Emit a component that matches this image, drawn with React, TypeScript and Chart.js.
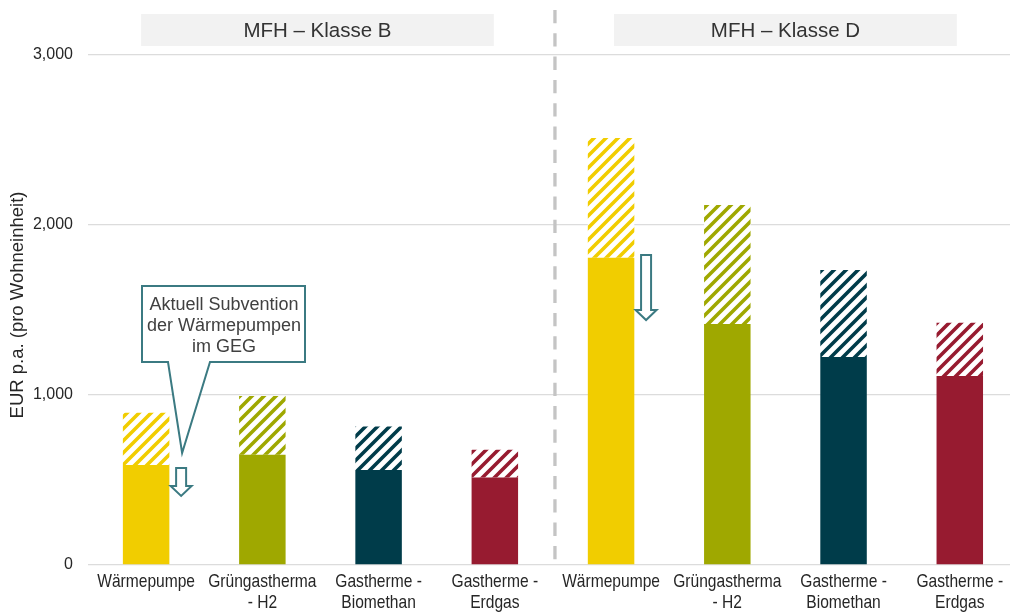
import { useEffect, useRef } from "react";
import { Chart, registerables } from "chart.js";

Chart.register(...registerables);

// Categories (multi-line x labels), two building classes of four systems each
const categories: string[][] = [
  ["Wärmepumpe"],
  ["Grüngastherma", "- H2"],
  ["Gastherme -", "Biomethan"],
  ["Gastherme -", "Erdgas"],
  ["Wärmepumpe"],
  ["Grüngastherma", "- H2"],
  ["Gastherme -", "Biomethan"],
  ["Gastherme -", "Erdgas"],
];
const groupLabels = ["MFH – Klasse B", "MFH – Klasse D"];

// Annual cost per dwelling (EUR): solid base and hatched additional part
const baseCosts = [588, 648, 559, 515, 1808, 1418, 1224, 1112];
const extraCosts = [307, 346, 255, 163, 704, 700, 511, 313];

const barColors = ["#f1cd00", "#9fa800", "#003c4a", "#971b30", "#f1cd00", "#9fa800", "#003c4a", "#971b30"];
const yTicks = [0, 1000, 2000, 3000];

// Subsidy arrows (EUR values) next to the heat pump bars
const arrowCategory = [0, 4];
const arrowFrom = [571, 1824];
const arrowTo = [406, 1441];

const calloutLines = ["Aktuell Subvention", "der Wärmepumpen", "im GEG"];
const yTitle = "EUR p.a. (pro Wohneinheit)";

const TEAL = "#3b7a82";
const SANS = "'Liberation Sans', Arial, sans-serif";

function hatch(color: string): CanvasPattern | string {
  const size = 12;
  const c = document.createElement("canvas");
  c.width = size;
  c.height = size;
  const g = c.getContext("2d");
  if (!g) return color;
  g.fillStyle = "#ffffff";
  g.fillRect(0, 0, size, size);
  g.strokeStyle = color;
  g.lineWidth = 3.6;
  g.beginPath();
  g.moveTo(-3, size + 3);
  g.lineTo(size + 3, -3);
  g.moveTo(-3, 3);
  g.lineTo(3, -3);
  g.moveTo(size - 3, size + 3);
  g.lineTo(size + 3, size - 3);
  g.stroke();
  return g.createPattern(c, "repeat") || color;
}

const overlayPlugin = {
  id: "overlay",
  afterDraw(chart: any) {
    const { ctx, scales, chartArea } = chart;
    const x = scales.x;
    const y = scales.y;
    ctx.save();

    // condensed category labels under each bar
    ctx.fillStyle = "#262626";
    ctx.font = `19px ${SANS}`;
    ctx.textAlign = "center";
    ctx.textBaseline = "middle";
    categories.forEach((lines, i) => {
      const cx = x.getPixelForValue(i);
      lines.forEach((line, j) => {
        ctx.save();
        ctx.translate(cx, chartArea.bottom + 17 + j * 21);
        ctx.scale(0.82, 1);
        ctx.fillText(line, 0, 0);
        ctx.restore();
      });
    });

    // group header boxes
    const boxes = [
      [x.getPixelForValue(0) - 5, x.getPixelForValue(3) - 1],
      [x.getPixelForValue(4) + 3, x.getPixelForValue(7) - 3],
    ];
    boxes.forEach(([l, r], i) => {
      ctx.fillStyle = "#f2f2f2";
      ctx.fillRect(l, 14, r - l, 32);
      ctx.fillStyle = "#333333";
      ctx.font = `20.5px ${SANS}`;
      ctx.textAlign = "center";
      ctx.textBaseline = "middle";
      ctx.fillText(groupLabels[i], (l + r) / 2, 31);
    });

    // dashed separator between the groups
    const sx = (x.getPixelForValue(3) + x.getPixelForValue(4)) / 2 + 2;
    ctx.strokeStyle = "#c4c4c4";
    ctx.lineWidth = 3.3;
    ctx.setLineDash([13.3, 10]);
    ctx.beginPath();
    ctx.moveTo(sx, 10);
    ctx.lineTo(sx, chartArea.bottom);
    ctx.stroke();
    ctx.setLineDash([]);

    // hollow down arrows
    const arrowTops: number[][] = [];
    arrowCategory.forEach((cat, i) => {
      const cx = x.getPixelForValue(cat) + 35;
      const top = y.getPixelForValue(arrowFrom[i]);
      const tip = y.getPixelForValue(arrowTo[i]);
      const headStart = tip - 10;
      arrowTops.push([cx, top]);
      ctx.beginPath();
      ctx.moveTo(cx - 5, top);
      ctx.lineTo(cx + 5, top);
      ctx.lineTo(cx + 5, headStart);
      ctx.lineTo(cx + 10.5, headStart);
      ctx.lineTo(cx, tip);
      ctx.lineTo(cx - 10.5, headStart);
      ctx.lineTo(cx - 5, headStart);
      ctx.closePath();
      ctx.fillStyle = "#ffffff";
      ctx.fill();
      ctx.strokeStyle = TEAL;
      ctx.lineWidth = 2;
      ctx.lineJoin = "miter";
      ctx.stroke();
    });

    // callout with pointer towards the first arrow
    const [ax, atop] = arrowTops[0];
    const bl = 142, br = 305, bt = 286, bb = 362;
    ctx.beginPath();
    ctx.moveTo(bl, bt);
    ctx.lineTo(br, bt);
    ctx.lineTo(br, bb);
    ctx.lineTo(210, bb);
    ctx.lineTo(ax + 1, atop - 15);
    ctx.lineTo(168, bb);
    ctx.lineTo(bl, bb);
    ctx.closePath();
    ctx.fillStyle = "#ffffff";
    ctx.fill();
    ctx.strokeStyle = TEAL;
    ctx.lineWidth = 2;
    ctx.stroke();
    ctx.fillStyle = "#404040";
    ctx.font = `18px ${SANS}`;
    ctx.textAlign = "center";
    ctx.textBaseline = "middle";
    calloutLines.forEach((line, i) => ctx.fillText(line, 224, 305 + i * 21));

    // y axis title
    ctx.translate(18, 305);
    ctx.rotate(-Math.PI / 2);
    ctx.fillStyle = "#262626";
    ctx.font = `18.5px ${SANS}`;
    ctx.textAlign = "center";
    ctx.textBaseline = "middle";
    ctx.fillText(yTitle, 0, 0);

    ctx.restore();
  },
};

export default function App() {
  const ref = useRef<HTMLCanvasElement | null>(null);

  useEffect(() => {
    if (!ref.current) return;
    const chart = new Chart(ref.current, {
      type: "bar",
      data: {
        datasets: [
          {
            label: "Basis",
            data: baseCosts.map((v, i) => ({ x: i, y: v })),
            backgroundColor: barColors,
            stack: "s",
            borderWidth: 0,
          },
          {
            label: "Zusatz",
            data: extraCosts.map((v, i) => ({ x: i, y: v })),
            backgroundColor: barColors.map((c) => hatch(c)),
            stack: "s",
            borderWidth: 0,
          },
        ],
      },
      options: {
        responsive: false,
        animation: false,
        devicePixelRatio: 1,
        layout: { padding: { top: 55, right: 0, bottom: 0, left: 0 } },
        datasets: { bar: { categoryPercentage: 0.4, barPercentage: 1 } },
        plugins: { legend: { display: false }, tooltip: { enabled: false }, title: { display: false } },
        scales: {
          x: {
            type: "linear",
            min: -0.5,
            max: 7.432,
            bounds: "data",
            offset: false,
            stacked: true,
            grid: { display: false, drawTicks: false, offset: false },
            border: { display: false },
            afterBuildTicks: (s: any) => {
              s.ticks = categories.map((_, i) => ({ value: i }));
            },
            afterFit: (s: any) => {
              s.height = 47;
            },
            ticks: { display: false },
          },
          y: {
            min: 0,
            max: 3000,
            stacked: true,
            grid: { color: "#dcdcdc", lineWidth: 1.3, drawTicks: false },
            border: { display: false },
            afterBuildTicks: (s: any) => {
              s.ticks = yTicks.map((v) => ({ value: v }));
            },
            afterFit: (s: any) => {
              s.width = 88;
            },
            ticks: {
              padding: 15,
              color: "#262626",
              font: { family: SANS, size: 16 },
              callback: (v: any) => Number(v).toLocaleString("en-US"),
            },
          },
        },
      },
      plugins: [overlayPlugin],
    });
    return () => chart.destroy();
  }, []);

  return (
    <div style={{ position: "absolute", left: 0, top: 0, width: 1010, height: 612, background: "#fff" }}>
      <canvas ref={ref} width={1010} height={612} style={{ display: "block" }} />
    </div>
  );
}
